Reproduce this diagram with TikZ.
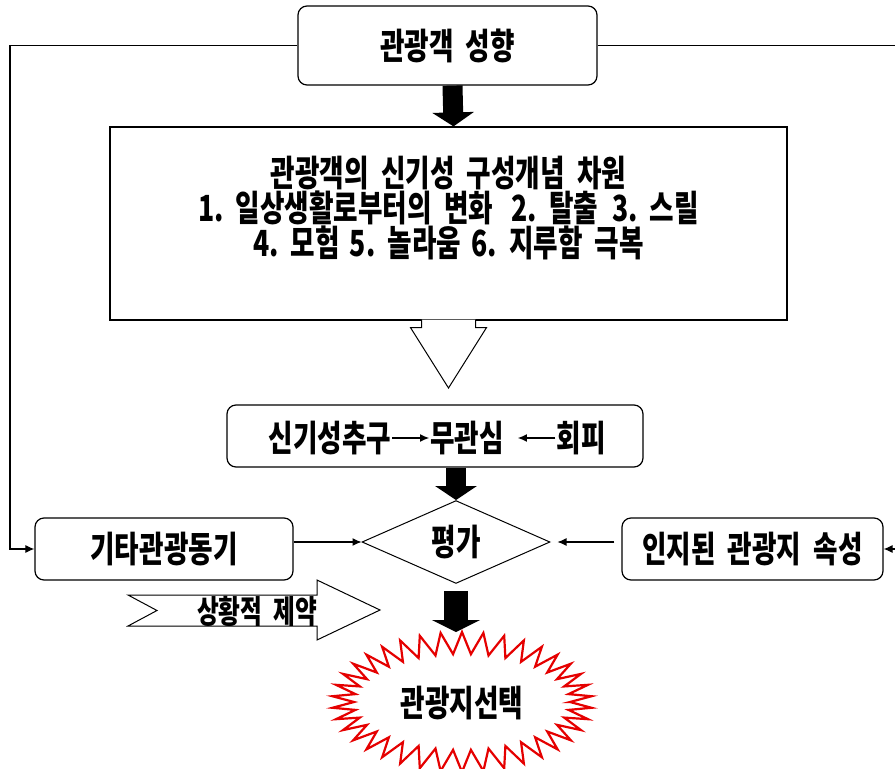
\documentclass[tikz,border=0pt]{standalone}
\usepackage{fontspec}
\newfontfamily\krfont[FakeStretch=0.74,WordSpace=2]{Noto Sans CJK KR}
\usetikzlibrary{arrows.meta,shapes.geometric,calc}
\begin{document}
\begin{tikzpicture}[x=1pt,y=-1pt,
  txt/.style={font=\krfont\bfseries\fontsize{36}{35}\selectfont, inner sep=1pt, align=center},
  rbox/.style={draw, line width=1.2pt, rounded corners=9pt, inner sep=0pt, txt},
  sbox/.style={draw, line width=1.2pt, inner sep=0pt},
  sarrow/.style={line width=1.1pt, -{Latex[length=9pt,width=8pt]}},
  bigarrow/.style={line width=20pt, -{Triangle[width=41pt,length=14pt]}},
  hollow/.style={line width=1pt, fill=white, line join=miter},
  starline/.style={draw=red!90!black, line width=2.2pt, fill=white, line join=miter}]
\useasboundingbox (0,0) rectangle (895,769);

% boxes
\node[rbox, minimum width=299pt, minimum height=79pt] (top) at (447.5,45.5) {관광객 성향};
\node[sbox, minimum width=677pt, minimum height=193pt] (dim) at (448.5,223.5) {};
\node[txt] (dimtxt) at (448.5,208) {관광객의 신기성 구성개념 차원\\1.~일상생활로부터의 변화\hspace{18pt}2.~탈출\hspace{14pt}3.~스릴\\4.~모험\hspace{10pt}5.~놀라움\hspace{10pt}6.~지루함 극복};

\node[rbox, minimum width=416pt, minimum height=62pt] (mid) at (435,436) {};
\node[txt] (nov) at (330,438) {신기성추구};
\node[txt] (ind) at (467,438) {무관심};
\node[txt] (avo) at (581,438) {회피};
\draw[sarrow] (nov.east) -- (ind.west);
\draw[sarrow, shorten >=13pt] (avo.west) -- (ind.east);

\node[draw, diamond, line width=1pt, minimum width=188pt, minimum height=78pt, txt, inner sep=0pt] (eval) at (456,542) {평가};
\node[rbox, minimum width=258pt, minimum height=62pt] (oth) at (164,549) {기타관광동기};
\node[rbox, minimum width=261pt, minimum height=62pt] (attr) at (752.5,549) {인지된 관광지 속성};

% star
\coordinate (sc) at (462,702);
\coordinate (sctop) at (462,632);
\draw[starline, shift={(sc)}] plot[domain=0:360, samples=77, variable=\t]
  ({(119+11*cos(38*(\t-90)))*cos(\t)}, {(59+11*cos(38*(\t-90)))*sin(\t)}) -- cycle;
\node[txt] (sel) at (462,703) {관광지선택};

% thick arrows
\draw[bigarrow] ([xshift=5pt]top.south) -- ([xshift=5pt]dim.north);
\draw[bigarrow] (eval.north |- mid.south) -- (eval.north);
\draw[bigarrow, line width=24pt, -{Triangle[width=48pt,length=12pt]}] ([yshift=-7pt]eval.south) -- (eval.south |- sctop);

% hollow arrow
\coordinate (htip) at (448.5,388);
\draw[hollow] ($(dim.south)+(-27,-1)$) -- ++(0,8) -- ++(-11,0) -- (htip)
  -- ($(dim.south)+(38,7)$) -- ++(-11,0) -- ($(dim.south)+(27,-1)$);

% situational constraint arrow
\draw[hollow] (128,595) -- (317,595) -- (317,580) -- (380,610) -- (317,640)
  -- (317,626) -- (128,626) -- (157,610.5) -- cycle;
\node[txt, font=\krfont\bfseries\fontsize{32}{30}\selectfont] (sit) at (257,611) {상황적 제약};

% connectors
\coordinate (lx) at (10,0);
\coordinate (rx) at (905,0);
\draw[sarrow] (top.west) -- (top.west -| lx) |- (oth.west);
\draw[sarrow] (top.east) -- (top.east -| rx) |- (attr.east);
\draw[sarrow] (oth.east |- eval.west) -- (eval.west);
\draw[sarrow, shorten <=7pt, shorten >=7pt] (attr.west |- eval.east) -- (eval.east);
\end{tikzpicture}
\end{document}
